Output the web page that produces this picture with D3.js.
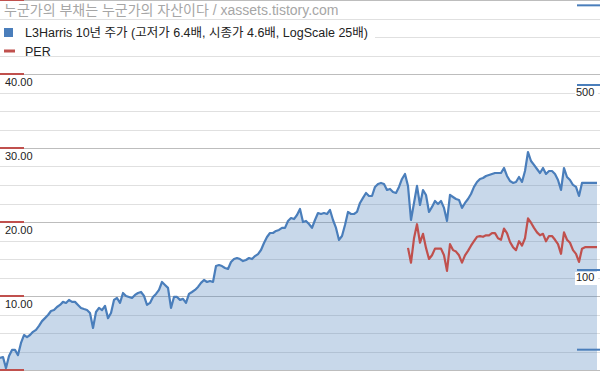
<!DOCTYPE html>
<html><head><meta charset="utf-8">
<script src="https://cdn.jsdelivr.net/npm/d3@7"></script>
<style>
html,body{margin:0;padding:0;background:#fff;}
svg{display:block;font-family:"Liberation Sans",Arial,"Noto Sans CJK KR",sans-serif;}
</style></head>
<body>
<svg id="chart" width="600" height="371"></svg>
<script>
// ---- data (semi-monthly samples, ~10 years) ----
const titleText = "누군가의 부채는 누군가의 자산이다 / xassets.tistory.com";
const seriesNames = ["L3Harris 10년 주가 (고저가 6.4배, 시종가 4.6배, LogScale 25배)", "PER"];
const price = [
46.5,46.9,42.6,47.3,49.9,49.9,47.7,53.0,56.8,55.8,56.8,58.4,59.4,61.5,64.1,65.8,67.6,70.0,70.6,72.5,
73.8,75.8,75.1,77.1,75.8,75.8,73.8,71.9,71.2,70.6,68.8,60.4,69.4,71.9,70.6,73.2,65.8,68.8,77.1,78.4,
75.1,81.9,79.8,79.1,78.4,80.5,81.9,82.6,79.8,73.8,75.1,79.1,81.2,84.1,90.1,87.8,85.6,71.9,79.1,79.1,
77.1,77.8,75.1,81.2,82.6,84.1,86.3,89.4,91.7,90.1,90.9,90.1,103.5,104.4,103.5,101.8,100.9,107.2,110.0,111.0,
110.0,108.1,109.1,111.0,110.0,112.9,114.9,119.0,126.5,133.3,138.0,138.0,140.5,141.7,144.2,144.2,153.2,157.2,155.8,161.4,
170.1,151.8,153.2,149.2,144.2,154.5,164.2,162.8,164.2,162.8,168.6,154.5,144.2,129.9,134.4,147.9,165.7,162.8,162.8,165.7,
179.2,187.2,195.5,190.4,190.4,206.0,211.4,213.3,211.4,200.6,202.4,197.2,195.5,206.0,220.8,230.6,207.8,154.5,179.2,207.8,
176.1,200.6,192.1,165.7,173.1,182.3,177.6,182.3,171.6,153.2,192.1,188.8,185.5,183.9,171.6,179.2,185.5,193.8,206.0,215.1,
220.8,222.7,226.6,228.6,230.6,232.6,232.6,232.6,242.9,226.6,217.0,213.3,215.1,224.6,215.1,236.6,279.2,258.2,249.4,240.8,
232.6,242.9,230.6,236.6,236.6,230.6,218.9,200.6,242.9,224.6,218.9,209.6,206.0,190.4,213.3,213.3,213.3,213.3,213.3,213.3
];
const perStart = 136;
const per = [
16.5,14.5,17.8,19.7,17.2,18.4,16.5,15.0,15.5,16.4,16.4,16.4,15.5,13.4,17.0,16.2,16.0,15.5,14.5,15.5,
16.1,16.8,17.4,18.0,18.1,18.0,18.2,18.2,18.5,18.5,17.8,17.6,19.1,18.5,17.3,16.6,16.2,17.4,16.8,17.8,
20.5,19.9,19.2,18.6,18.2,18.4,17.4,18.1,18.1,17.6,17.0,15.7,18.6,17.6,17.2,16.2,15.7,14.6,16.4,16.6,
16.6,16.6,16.6,16.6
];
const leftGrid = d3.range(0, 50.01, 2.5);
const leftTicks = [0, 10, 20, 30, 40, 50];
const leftLabels = [10, 20, 30, 40];
const rightTicks = [50, 100, 500, 1000];
const rightLabels = [100, 500];
const logDomain = [41.9, 1047.5];

// ---- drawing ----
const W = 600, H = 371;
const svg = d3.select("#chart");
const x = d3.scaleLinear().domain([0, price.length - 1]).range([0, 597]);
const yL = d3.scaleLinear().domain([0, 50]).range([370, 0]);
const yR = d3.scaleLog().domain(logDomain).range([370, 0]);
const blue = "#4a7ebb", red = "#c0504d";

svg.append("g").selectAll("line").data(leftGrid).join("line")
  .attr("x1", 0).attr("x2", W)
  .attr("y1", d => Math.round(yL(d)) + 0.5).attr("y2", d => Math.round(yL(d)) + 0.5)
  .attr("stroke", d => d % 10 === 0 ? "#bdbdbd" : "#e0e0e0").attr("stroke-width", 1);

const area = d3.area().x((d, i) => x(i)).y0(370).y1(d => yR(d));
svg.append("path").datum(price).attr("d", area).attr("fill", blue).attr("fill-opacity", 0.3);
const line = d3.line().x((d, i) => x(i)).y(d => yR(d));
svg.append("path").datum(price).attr("d", line).attr("fill", "none")
  .attr("stroke", blue).attr("stroke-width", 2.2).attr("stroke-linejoin", "round");
const pline = d3.line().x((d, i) => x(i + perStart)).y(d => yL(d));
svg.append("path").datum(per).attr("d", pline).attr("fill", "none")
  .attr("stroke", red).attr("stroke-width", 2.2).attr("stroke-linejoin", "round");

// white bg behind first legend row
svg.append("rect").attr("x", 0).attr("y", 26).attr("width", 375).attr("height", 15).attr("fill", "#fff");

// left ticks
svg.append("g").selectAll("line").data(leftTicks).join("line")
  .attr("x1", 0).attr("x2", 24).attr("y1", d => yL(d)).attr("y2", d => yL(d))
  .attr("stroke", red).attr("stroke-width", 2);
svg.append("g").selectAll("text").data(leftLabels).join("text")
  .attr("x", 5).attr("y", d => yL(d) + 12).attr("font-size", 11).attr("fill", "#222")
  .text(d => d3.format(".2f")(d));

// right ticks
const rl = svg.append("g").selectAll("g").data(rightLabels).join("g");
rl.append("rect").attr("x", 575).attr("y", d => yR(d) + 2).attr("width", 23).attr("height", 13).attr("fill", "#fff");
rl.append("text").attr("x", 576).attr("y", d => yR(d) + 11).attr("font-size", 11).attr("fill", "#222").text(d => d);
svg.append("g").selectAll("line").data(rightTicks).join("line")
  .attr("x1", 577).attr("x2", 600).attr("y1", d => yR(d)).attr("y2", d => yR(d))
  .attr("stroke", blue).attr("stroke-width", 2);

// title
svg.append("text").attr("x", 4).attr("y", 15).attr("font-size", 14).attr("fill", "#a6a6a6").text(titleText);

// legend
svg.append("rect").attr("x", 4).attr("y", 28).attr("width", 9).attr("height", 9).attr("fill", blue);
svg.append("text").attr("x", 25).attr("y", 37).attr("font-size", 12.5).attr("fill", "#222").text(seriesNames[0]);
svg.append("rect").attr("x", 4).attr("y", 49.5).attr("width", 11).attr("height", 3).attr("fill", red);
svg.append("text").attr("x", 25).attr("y", 55.5).attr("font-size", 12.5).attr("fill", "#222").text(seriesNames[1]);
</script>
</body></html>
